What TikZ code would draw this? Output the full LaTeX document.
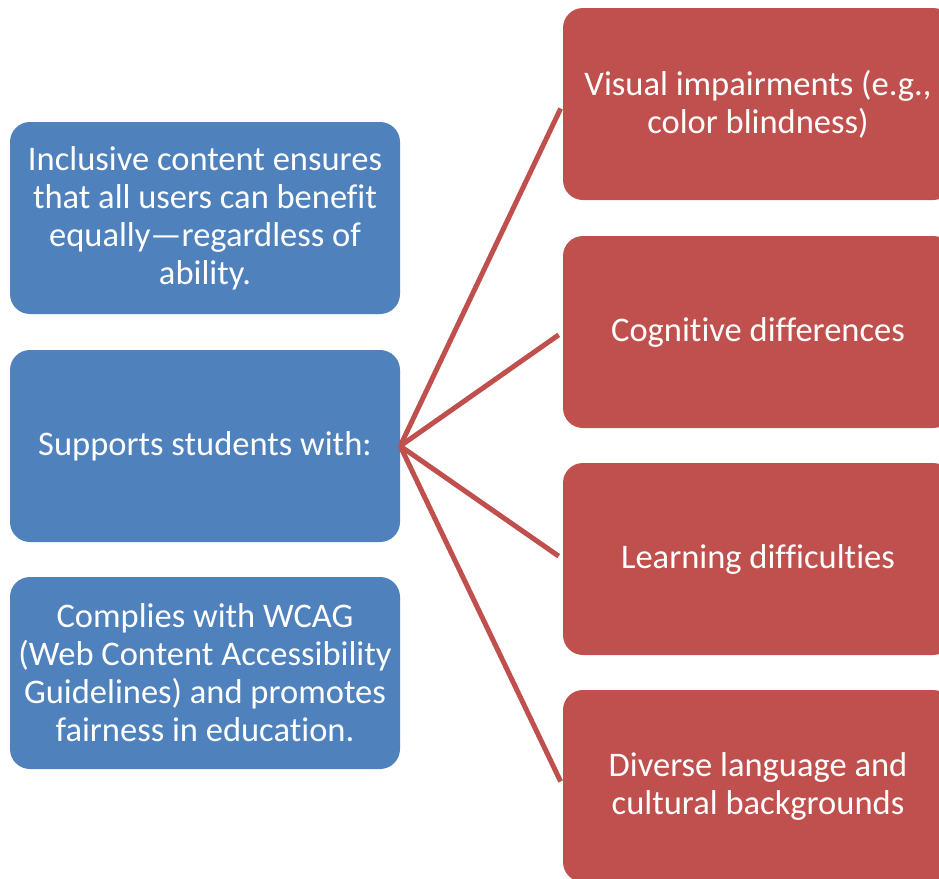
\documentclass[tikz,border=0pt]{standalone}
\usepackage{fontspec}
\setmainfont{Carlito}[Ligatures={NoCommon}]
\definecolor{bluebox}{HTML}{4F81BD}
\definecolor{redbox}{HTML}{C0504D}
\begin{document}
\begin{tikzpicture}[x=1pt,y=-1pt,
  box/.style={rectangle,rounded corners=20pt,minimum width=390pt,minimum height=192pt,
    inner sep=0pt,align=center,text=white,font=\fontsize{34.5}{38}\selectfont},
  bbox/.style={box,fill=bluebox},
  rbox/.style={box,fill=redbox},
  link/.style={draw=redbox,line width=5pt,shorten >=5pt}]
\useasboundingbox (0,0) rectangle (939,878);
\clip (0,0) rectangle (939,878);
\node[bbox] (b1) at (205,218) {Inclusive content ensures\\that all users can benefit\\equally—regardless of\\ability.};
\node[bbox] (b2) at (205,446) {Supports students with:};
\node[bbox] (b3) at (205,673) {Complies with WCAG\\(Web Content Accessibility\\Guidelines) and promotes\\fairness in education.};
\node[rbox] (r1) at (758,104) {Visual impairments (e.g.,\\color blindness)};
\node[rbox] (r2) at (758,332) {Cognitive differences};
\node[rbox] (r3) at (758,559) {Learning difficulties};
\node[rbox] (r4) at (758,786) {Diverse language and\\cultural backgrounds};
\foreach \r in {r1,r2,r3,r4} \draw[link] (b2.east) -- (\r.west);
\end{tikzpicture}
\end{document}
